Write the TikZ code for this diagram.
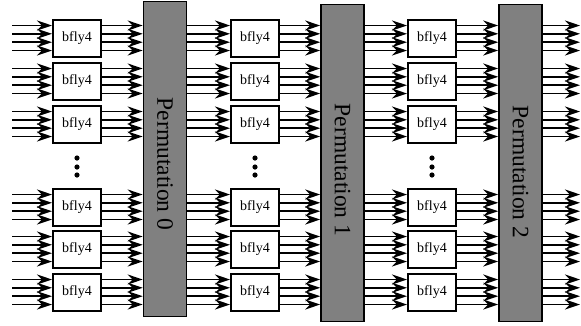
\documentclass[tikz,border=0pt]{standalone}
\usepackage{fontspec}
\setmainfont{Liberation Serif}
\usetikzlibrary{arrows.meta,positioning,calc}
\definecolor{permgray}{HTML}{808080}

\tikzset{
  bfly/.style={draw,line width=2pt,fill=white,minimum width=48pt,minimum height=37pt,inner sep=0pt,font=\fontsize{14}{16}\selectfont},
  perm/.style={draw,line width=1.6pt,fill=permgray,minimum width=43pt,inner sep=0pt},
  permlabel/.style={rotate=-90,font=\fontsize{23.5}{26}\selectfont},
  wire/.style={line width=1.8pt,-{Stealth[length=15pt,width=10pt,inset=5pt]}},
}

\begin{document}
\begin{tikzpicture}[x=1pt,y=-1pt]
  \useasboundingbox (0,0) rectangle (581,325);

  % Permutation blocks
  \node[perm,minimum height=315pt] (p0) at (165,159) {};
  \node[perm,minimum height=317pt] (p1) at (342.5,163) {};
  \node[perm,minimum height=317pt] (p2) at (520.5,163) {};
  \node[permlabel] (l0) at (165,164) {Permutation 0};
  \node[permlabel] (l1) at (342.5,170) {Permutation 1};
  \node[permlabel] (l2) at (520.5,172) {Permutation 2};

  % Wire ends
  \coordinate (s0) at (12,0);
  \coordinate (s1) at (p0.east);
  \coordinate (s2) at (p1.east);
  \coordinate (out) at (580,0);

  % bfly4 columns
  \foreach \c/\x in {0/77,1/255,2/432} {
    \foreach \r/\y in {1/38,2/81,3/124,4/207,5/249,6/292} {
      \node[bfly] (b\c\r) at (\x,\y) {bfly4};
    }
    \foreach \y in {158,167,175}
      \fill (\x,\y) circle (2.6pt);
  }

  % Wires into and out of each bfly4
  \foreach \c in {0,1,2} {
    \foreach \r in {1,...,6} {
      \foreach \d in {-12.5,-4.2,4.2,12.5} {
        \draw[wire] ([yshift=\d pt]b\c\r.west -| s\c) -- ([yshift=\d pt]b\c\r.west);
        \draw[wire] ([yshift=\d pt]b\c\r.east) -- ([yshift=\d pt]b\c\r.east -| p\c.west);
      }
    }
  }

  % Outputs of the last permutation
  \foreach \r in {1,...,6} {
    \foreach \d in {-12.5,-4.2,4.2,12.5}
      \draw[wire] ([yshift=\d pt]b2\r.east -| p2.east) -- ([yshift=\d pt]b2\r.east -| out);
  }
\end{tikzpicture}
\end{document}
